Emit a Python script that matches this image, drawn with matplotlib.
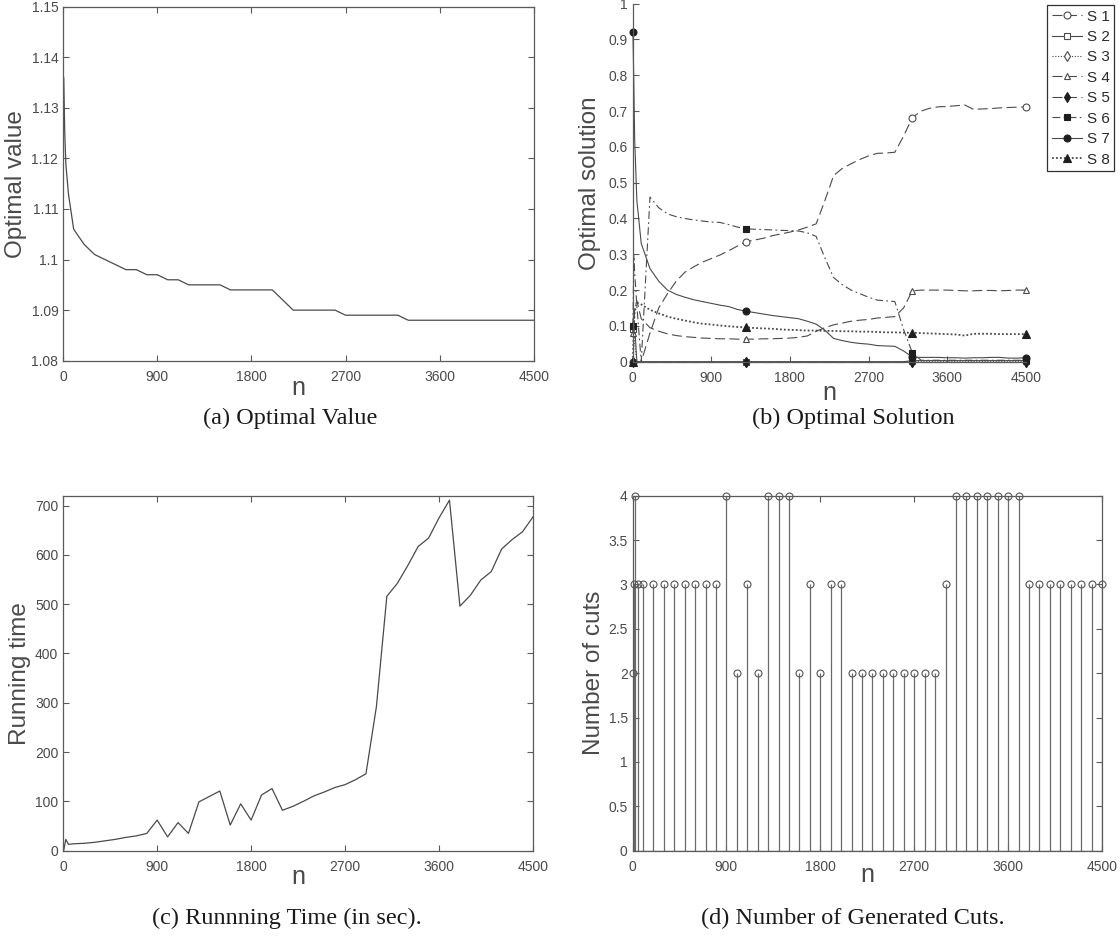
import matplotlib
matplotlib.use("Agg")
import matplotlib.pyplot as plt
from matplotlib.ticker import FuncFormatter, FixedLocator

# ---------------- data ----------------
n_vals = [5, 15, 25, 50, 100, 200, 300, 400, 500, 600, 700, 800, 900, 1000,
          1100, 1200, 1300, 1400, 1500, 1600, 1700, 1800, 1900, 2000, 2100,
          2200, 2300, 2400, 2500, 2600, 2700, 2800, 2900, 3000, 3100, 3200,
          3300, 3400, 3500, 3600, 3700, 3800, 3900, 4000, 4100, 4200, 4300,
          4400, 4500]

opt_value = [1.136, 1.125, 1.119, 1.113, 1.106, 1.103, 1.101, 1.100, 1.099,
             1.098, 1.098, 1.097, 1.097, 1.096, 1.096, 1.095, 1.095, 1.095,
             1.095, 1.094, 1.094, 1.094, 1.094, 1.094, 1.092, 1.090, 1.090,
             1.090, 1.090, 1.090, 1.089, 1.089, 1.089, 1.089, 1.089, 1.089,
             1.088, 1.088, 1.088, 1.088, 1.088, 1.088, 1.088, 1.088, 1.088,
             1.088, 1.088, 1.088, 1.088]

run_time = [1, 12, 23, 13, 14, 15, 17, 20, 23, 27, 30, 35, 62, 28, 57, 35, 99,
            110, 121, 52, 95, 62, 113, 126, 82, 90, 100, 111, 119, 128, 134,
            144, 156, 292, 516, 542, 578, 617, 634, 675, 711, 496, 518, 549,
            566, 612, 631, 647, 677]

num_cuts = [2, 3, 4, 3, 3, 3, 3, 3, 3, 3, 3, 3, 4, 2, 3, 2, 4, 4, 4, 2, 3, 2,
            3, 3, 2, 2, 2, 2, 2, 2, 2, 2, 2, 3, 4, 4, 4, 4, 4, 4, 4, 3, 3, 3,
            3, 3, 3, 3, 3]

s1 = [0, 0, 0, 0, 0, 0.08, 0.15, 0.19, 0.225, 0.25, 0.265, 0.278, 0.288,
      0.298, 0.31, 0.323, 0.335, 0.34, 0.345, 0.352, 0.357, 0.362, 0.368,
      0.376, 0.385, 0.45, 0.52, 0.54, 0.553, 0.565, 0.575, 0.582, 0.583,
      0.585, 0.63, 0.682, 0.70, 0.708, 0.712, 0.713, 0.715, 0.717, 0.705,
      0.706, 0.707, 0.709, 0.71, 0.711, 0.712]
s2 = [0.09, 0.11, 0.10, 0, 0, 0, 0, 0, 0, 0, 0, 0, 0, 0, 0, 0, 0, 0, 0, 0,
      0, 0, 0, 0, 0, 0, 0, 0, 0, 0, 0, 0, 0, 0, 0, 0.003, 0.003, 0.003,
      0.003, 0.003, 0.003, 0.003, 0.003, 0.003, 0.003, 0.003, 0.003, 0.003,
      0.003]
s3 = [0.10, 0.15, 0.05, 0, 0, 0, 0, 0, 0, 0, 0, 0, 0, 0, 0, 0, 0, 0, 0, 0,
      0, 0, 0, 0, 0, 0, 0, 0, 0, 0, 0, 0, 0, 0, 0, 0, 0, 0, 0, 0, 0, 0, 0,
      0, 0, 0, 0, 0, 0]
s4 = [0.08, 0.10, 0.15, 0.17, 0.12, 0.095, 0.085, 0.078, 0.073, 0.07, 0.068,
      0.066, 0.065, 0.064, 0.064, 0.063, 0.063, 0.063, 0.064, 0.064, 0.065,
      0.066, 0.068, 0.072, 0.085, 0.095, 0.103, 0.108, 0.113, 0.116, 0.118,
      0.122, 0.124, 0.126, 0.15, 0.198, 0.20, 0.20, 0.20, 0.20, 0.199,
      0.198, 0.198, 0.199, 0.199, 0.198, 0.199, 0.20, 0.20]
s5 = [0, 0, 0, 0, 0, 0, 0, 0, 0, 0, 0, 0, 0, 0, 0, 0, 0, 0, 0, 0, 0, 0, 0,
      0, 0, 0, 0, 0, 0, 0, 0, 0, 0, 0, 0, 0, 0, 0, 0, 0, 0, 0, 0, 0, 0, 0,
      0, 0, 0]
s6 = [0.10, 0.30, 0.25, 0.155, 0.0, 0.46, 0.43, 0.413, 0.405, 0.40, 0.396,
      0.393, 0.39, 0.389, 0.383, 0.376, 0.371, 0.37, 0.369, 0.368, 0.367,
      0.366, 0.365, 0.36, 0.35, 0.29, 0.235, 0.215, 0.20, 0.19, 0.18, 0.172,
      0.17, 0.168, 0.09, 0.025, 0.004, 0.004, 0.004, 0.004, 0.004, 0.004,
      0.004, 0.004, 0.004, 0.004, 0.004, 0.004, 0.004]
s7 = [0.92, 0.78, 0.62, 0.45, 0.33, 0.26, 0.225, 0.20, 0.188, 0.18, 0.173,
      0.168, 0.163, 0.158, 0.154, 0.146, 0.141, 0.137, 0.133, 0.129, 0.126,
      0.123, 0.12, 0.113, 0.105, 0.088, 0.065, 0.059, 0.054, 0.051, 0.049,
      0.045, 0.044, 0.043, 0.03, 0.013, 0.012, 0.012, 0.012, 0.011, 0.011,
      0.01, 0.011, 0.011, 0.012, 0.012, 0.01, 0.01, 0.011]
s8 = [0.0, 0.10, 0.14, 0.165, 0.16, 0.145, 0.135, 0.126, 0.12, 0.115, 0.11,
      0.106, 0.104, 0.101, 0.099, 0.097, 0.096, 0.094, 0.093, 0.092, 0.09,
      0.089, 0.088, 0.087, 0.087, 0.086, 0.086, 0.085, 0.085, 0.084, 0.084,
      0.083, 0.082, 0.082, 0.081, 0.081, 0.08, 0.079, 0.078, 0.077, 0.076,
      0.073, 0.078, 0.078, 0.078, 0.077, 0.077, 0.077, 0.077]

series_labels = ["S 1", "S 2", "S 3", "S 4", "S 5", "S 6", "S 7", "S 8"]
marker_idx = [0, 16, 35, 48]
x_ticks = [0, 900, 1800, 2700, 3600, 4500]

captions = ["(a) Optimal Value", "(b) Optimal Solution",
            "(c) Runnning Time (in sec).", "(d) Number of Generated Cuts."]

# ---------------- style ----------------
plt.rcParams["font.family"] = ["Liberation Sans", "DejaVu Sans"]
AX_C = "#5a5a5a"
TXT_C = "#4a4a4a"
LINE_C = "#4a4a4a"
DARK = "#1e1e1e"

fig = plt.figure(figsize=(11.2, 9.36), dpi=100)
W, H = 1120.0, 936.0


def make_ax(left, top, right, bottom):
    return fig.add_axes([left / W, 1 - bottom / H, (right - left) / W,
                         (bottom - top) / H])


fmt = FuncFormatter(lambda v, p: f"{round(v, 6):g}")


def style(ax, box=True):
    for s in ax.spines.values():
        s.set_color(AX_C)
        s.set_linewidth(0.9)
    if not box:
        ax.spines["top"].set_visible(False)
        ax.spines["right"].set_visible(False)
    ax.tick_params(direction="in", length=4.5, width=0.8, colors=AX_C,
                   labelcolor=TXT_C, labelsize=10, top=box, right=box)
    ax.tick_params(axis="x", pad=6.5)
    ax.tick_params(axis="y", pad=3.5)
    ax.xaxis.set_major_locator(FixedLocator(x_ticks))
    ax.yaxis.set_major_formatter(fmt)
    ax.set_xlim(0, 4500)


def labels(ax, ylab, ylx, xly):
    ax.set_xlabel("n", fontsize=18, color=TXT_C)
    ax.xaxis.set_label_coords(0.5, xly)
    ax.xaxis.label.set_va("center")
    ax.set_ylabel(ylab, fontsize=17.5, color=TXT_C)
    ax.yaxis.set_label_coords(ylx, 0.5)
    ax.yaxis.label.set_va("center")


# (a) optimal value
ax_a = make_ax(63.2, 6.7, 533.7, 360.7)
ax_a.plot(n_vals, opt_value, color=LINE_C, lw=0.9)
style(ax_a)
ax_a.set_ylim(1.08, 1.15)
ax_a.yaxis.set_major_locator(FixedLocator([1.08, 1.09, 1.10, 1.11, 1.12,
                                           1.13, 1.14, 1.15]))
labels(ax_a, "Optimal value", -0.1, -0.077)

# (b) optimal solution
ax_b = make_ax(632.5, 3.7, 1026.0, 361.7)
series = [s1, s2, s3, s4, s5, s6, s7, s8]
styles = [
    dict(ls=(0, (9, 4)), marker="o", mfc="white", ms=5, lw=0.8),
    dict(ls="-", marker="s", mfc="white", ms=4.5, lw=0.8),
    dict(ls=(0, (1, 1.5)), marker="d", mfc="white", ms=5, lw=0.8),
    dict(ls=(0, (9, 4)), marker="^", mfc="white", ms=5, lw=0.8),
    dict(ls=(0, (9, 4)), marker="d", mfc=DARK, ms=5, lw=0.8),
    dict(ls=(0, (7, 3, 1.5, 3)), marker="s", mfc=DARK, ms=4.5, lw=0.8),
    dict(ls="-", marker="o", mfc=DARK, ms=5, lw=0.8),
    dict(ls=(0, (1, 1.2)), marker="^", mfc=DARK, ms=5.5, lw=1.3),
]
for ys, lab, st in zip(series, series_labels, styles):
    ax_b.plot(n_vals, ys, color=LINE_C, mec=DARK if st["mfc"] == DARK else LINE_C,
              markevery=marker_idx, label=lab, clip_on=False, mew=0.8, **st)
style(ax_b, box=False)
ax_b.set_ylim(0, 1)
ax_b.yaxis.set_major_locator(FixedLocator([0, 0.1, 0.2, 0.3, 0.4, 0.5, 0.6,
                                           0.7, 0.8, 0.9, 1.0]))
labels(ax_b, "Optimal solution", -0.108, -0.088)
leg = ax_b.legend(loc="upper left", bbox_to_anchor=(1047 / W, 1 - 5 / H),
                  bbox_transform=fig.transFigure, fontsize=11, frameon=True,
                  fancybox=False, edgecolor="#303030", framealpha=1,
                  borderpad=0.3, labelspacing=0.42, handlelength=2.0,
                  handletextpad=0.3, borderaxespad=0)
leg.get_frame().set_linewidth(0.9)
for t in leg.get_texts():
    t.set_color("#2a2a2a")

# (c) running time
ax_c = make_ax(63.2, 495.7, 533.0, 850.7)
ax_c.plot(n_vals, run_time, color=LINE_C, lw=0.9)
style(ax_c)
ax_c.set_ylim(0, 720)
ax_c.yaxis.set_major_locator(FixedLocator([0, 100, 200, 300, 400, 500, 600,
                                           700]))
labels(ax_c, "Running time", -0.093, -0.073)

# (d) number of cuts
ax_d = make_ax(632.5, 495.7, 1102.0, 850.7)
ml, sl, bl = ax_d.stem(n_vals, num_cuts, linefmt="-", markerfmt="o",
                       basefmt="-")
sl.set_color("#6a6a6a")
sl.set_linewidth(0.9)
ml.set_color("#555555")
ml.set_markerfacecolor("none")
ml.set_markersize(5)
ml.set_markeredgewidth(0.8)
ml.set_clip_on(False)
bl.set_color(AX_C)
bl.set_linewidth(0.9)
style(ax_d)
ax_d.set_ylim(0, 4)
ax_d.yaxis.set_major_locator(FixedLocator([0, 0.5, 1, 1.5, 2, 2.5, 3, 3.5,
                                           4]))
labels(ax_d, "Number of cuts", -0.082, -0.068)

# captions
cap_font = dict(family=["Liberation Serif", "DejaVu Serif"], fontsize=17.5,
                color="#1a1a1a", ha="center", va="center")
fig.text(290 / W, 1 - 418 / H, captions[0], **cap_font)
fig.text(853 / W, 1 - 418 / H, captions[1], **cap_font)
fig.text(287 / W, 1 - 918 / H, captions[2], **cap_font)
fig.text(853 / W, 1 - 918 / H, captions[3], **cap_font)

fig.savefig("out.png", dpi=100, facecolor="white")
